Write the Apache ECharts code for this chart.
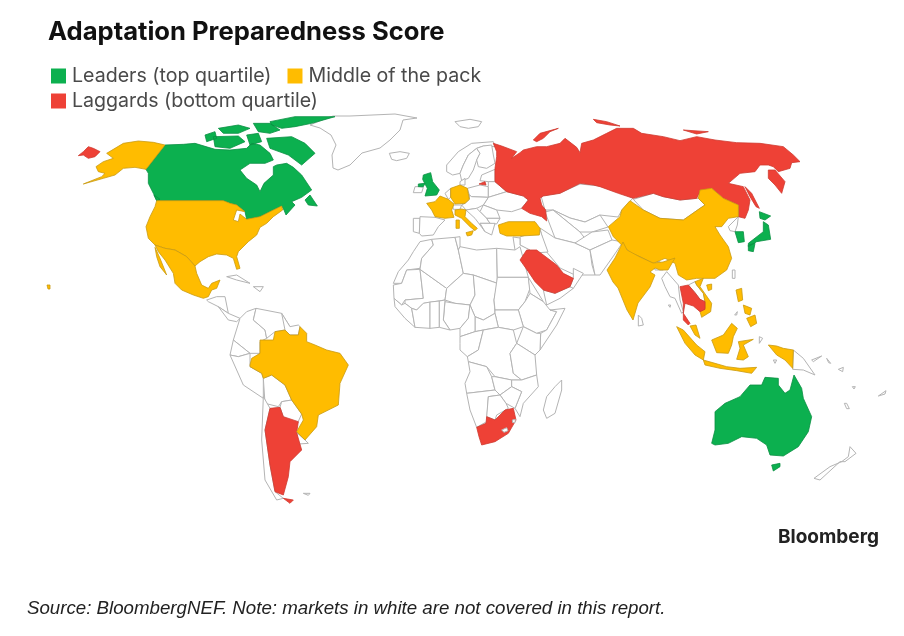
<!DOCTYPE html>
<html>
<head>
<meta charset="utf-8">
<title>Adaptation Preparedness Score</title>
<style>html,body{margin:0;background:#fff}#chart{width:904px;height:636px}</style>
<script src="https://cdn.jsdelivr.net/npm/echarts@6/dist/echarts.min.js"></script>
</head>
<body>
<div id="chart"></div>
<script>
const groupNames = ['Leaders (top quartile)', 'Middle of the pack', 'Laggards (bottom quartile)'];
const leaders = ['Canada', 'United Kingdom', 'Japan', 'South Korea', 'Australia'];
const middle = ['United States', 'Mexico', 'Brazil', 'France', 'Germany', 'Italy', 'Turkey', 'China', 'India',
    'Vietnam', 'Malaysia', 'Indonesia', 'Philippines'];
const laggards = ['Russia', 'Argentina', 'Saudi Arabia', 'South Africa', 'Thailand'];

// base map outlines, traced by hand from crops: [left, top, scale] of each crop
const PX = [0, 0, 1], NA = [60, 110, 1 / 3], SA = [150, 290, 1 / 3], EU = [380, 110, 1 / 3],
    AF = [380, 240, 1 / 3], EA = [600, 110, 1 / 3], OC = [600, 270, 1 / 3], CA = [195, 110, 1 / 3], ST = [650, 270, 1 / 3];

const outlines = {
    'Greenland': [[PX, [333,116,350,116,395,114,417,118,403,120,400,130,390,140,380,148,362,153,350,165,338,170,333,168,332,155,336,145,331,135,320,128,310,125,322,120]]],
    'Iceland': [[EU, [28,130,60,125,88,130,80,145,50,152,35,148]]],
    'Svalbard': [[EU, [225,35,270,28,305,35,295,50,265,55,240,50]]],
    'Ireland': [[EU, [105,230,118,230,130,232,125,248,100,248]]],
    'Portugal': [[EU, [100,325,120,325,118,370,100,365]]],
    'Spain': [[EU, [120,320,165,322,195,330,175,350,160,375,125,378,118,370]]],
    'Norway': [[EU, [200,165,235,125,275,100,340,95,345,110,310,108,290,115,265,135,250,165,240,190,218,195,200,185]]],
    'Sweden': [[EU, [250,165,265,135,290,115,300,130,290,150,280,180,265,205,245,212,240,190]]],
    'Finland': [[EU, [290,115,310,108,335,105,340,135,345,160,320,175,295,170,290,150,300,130]]],
    'Baltics': [[EU, [305,195,345,178,345,215,325,215,300,212]]],
    'Denmark': [[EU, [240,215,255,205,255,225,240,225]]],
    'Benelux': [[EU, [195,250,212,235,212,262,205,268]]],
    'Poland': [[EU, [262,235,300,225,325,230,325,262,275,260,268,255]]],
    'Belarus': [[EU, [325,215,345,215,380,245,325,262,325,230]]],
    'Ukraine': [[EU, [325,262,380,245,430,258,445,270,425,295,395,305,350,300,310,285]]],
    'Central Europe': [[EU, [268,255,275,260,325,262,310,285,290,295,258,300,245,285,255,280,268,268]]],
    'Switzerland': [[EU, [218,285,245,285,240,298,220,298]]],
    'Romania': [[EU, [310,285,350,300,360,325,320,325,300,305]]],
    'Balkans': [[EU, [258,300,290,295,300,305,320,325,330,340,300,340,315,365,285,325]]],
    'Bulgaria': [[EU, [320,325,360,325,350,342,330,340]]],
    'Greece': [[EU, [300,340,345,340,335,375,315,365]]],
    'Kazakhstan': [[PX, [541,196,560,193,580,184,600,186,620,193,633,198,622,210,618,217,600,215,585,222,570,218,553,210,545,210]]],
    'Uzbekistan': [[PX, [553,210,570,218,585,222,600,215,608,227,592,232,580,232]]],
    'Turkmenistan': [[PX, [545,212,553,210,580,232,590,245,575,243,555,238]]],
    'Mongolia': [[EA, [100,268,160,250,190,260,240,270,290,265,295,265,315,285,300,295,250,330,180,325,130,300]]],
    'Iran': [[PX, [540,228,555,238,575,243,590,250,592,265,595,275,575,275,560,268,545,250]]],
    'Iraq': [[PX, [520,237,540,230,548,252,535,253,520,245]]],
    'Afghanistan': [[PX, [575,243,592,232,608,230,612,240,590,250]]],
    'Pakistan': [[PX, [590,250,612,240,623,242,612,258,600,275,595,275]]],
    'Levant': [[PX, [513,237,520,238,520,245,530,250,520,258,515,250]]],
    'Yemen': [[AF, [490,150,525,160,570,140,580,145,540,175,500,195]]],
    'Oman': [[AF, [580,85,610,100,580,145,570,140,580,115]]],
    'Morocco': [[AF, [40,130,55,95,85,60,100,35,120,5,155,-2,160,15,125,55,120,85,80,90,65,130]]],
    'Mauritania': [[AF, [42,175,40,135,65,130,80,90,120,88,130,175,75,180,65,195]]],
    'Mali': [[AF, [120,88,200,145,195,180,130,190,110,210,95,205,75,190,75,180,130,175]]],
    'Algeria': [[AF, [125,55,160,15,155,-2,225,-8,235,30,250,100,200,145,120,88]]],
    'Tunisia': [[AF, [225,-8,240,-10,240,20,235,30]]],
    'Libya': [[AF, [240,20,290,30,350,25,352,130,280,105,250,100,235,30]]],
    'Egypt': [[AF, [350,25,405,30,420,20,445,112,352,112]]],
    'Niger': [[AF, [200,145,250,100,280,105,285,165,270,195,225,190,195,180]]],
    'Chad': [[AF, [280,105,352,130,342,180,345,220,310,240,285,230,270,195,285,165]]],
    'Sudan': [[AF, [352,112,445,112,450,145,435,185,415,210,345,210,342,180]]],
    'Eritrea': [[AF, [445,112,490,185,450,160]]],
    'Ethiopia': [[AF, [435,185,450,160,490,185,510,210,530,215,500,270,470,280,430,260,415,210]]],
    'Somalia': [[AF, [510,210,555,205,530,255,480,330,482,280,500,270,530,215]]],
    'Kenya': [[AF, [430,260,470,280,482,280,480,330,465,345,410,310]]],
    'South Sudan': [[AF, [345,210,415,210,430,260,400,270,355,262,345,220]]],
    'Central African Rep.': [[AF, [285,230,310,240,345,220,355,262,310,270,285,275]]],
    'Nigeria': [[AF, [195,185,225,190,270,195,265,235,240,265,210,270,190,240]]],
    'Cameroon': [[AF, [270,195,285,230,285,275,240,290,240,265,265,235]]],
    'Gabon': [[AF, [240,290,285,275,310,270,295,330,262,350,240,330,240,310]]],
    'DR Congo': [[AF, [310,270,355,262,400,270,410,310,390,340,400,400,425,420,395,420,345,410,320,380,265,365,262,350,295,330]]],
    'Tanzania': [[AF, [410,310,465,345,470,405,425,420,400,400,390,340]]],
    'Angola': [[AF, [265,365,320,380,335,410,345,450,260,460,255,430,270,395]]],
    'Zambia': [[AF, [335,410,345,410,395,420,395,440,360,465,345,450]]],
    'Mozambique': [[AF, [425,420,470,405,475,440,430,490,420,530,405,505,425,455,395,440,395,420]]],
    'Zimbabwe': [[AF, [360,465,395,440,425,455,405,505,378,490]]],
    'Namibia': [[AF, [260,460,345,450,360,465,325,470,320,545,290,562,270,510]]],
    'Botswana': [[AF, [325,470,360,465,378,490,385,505,350,525,345,540,320,530]]],
    'Guinea': [[AF, [42,175,65,195,75,190,95,205,105,262,75,235,45,200]]],
    'Ivory Coast': [[AF, [95,205,110,210,130,190,150,186,150,265,105,262]]],
    'Ghana': [[AF, [150,186,178,183,178,262,150,265]]],
    'Benin': [[AF, [178,183,195,180,190,240,210,270,178,262]]],
    'Madagascar': [[AF, [545,420,545,450,525,520,500,535,490,510,500,470,525,440]]],
    'Cuba': [[NA, [500,500,530,495,570,520,530,510]]],
    'Hispaniola': [[NA, [580,530,610,530,600,545]]],
    'Central America': [[SA, [170,30,200,20,225,20,235,70,205,50,175,35]]],
    'Panama': [[SA, [205,50,235,70,270,85,260,95,235,90]]],
    'Colombia': [[SA, [270,85,290,65,318,55,310,90,345,120,350,145,330,155,330,190,300,190,250,150]]],
    'Venezuela': [[SA, [318,55,395,70,420,110,405,120,375,125,350,145,345,120,310,90]]],
    'Guyana': [[SA, [395,70,420,110,445,105,450,110,445,135,420,135,405,120]]],
    'Ecuador': [[SA, [250,150,300,190,265,200,240,195]]],
    'Peru': [[SA, [240,195,265,200,300,190,300,230,335,250,340,265,340,325,280,285]]],
    'Bolivia': [[SA, [340,265,365,255,405,285,425,330,395,335,385,350,345,340]]],
    'Chile': [[SA, [340,320,360,355,345,420,360,525,375,605,400,625,380,630,345,570,335,450]]],
    'Paraguay': [[SA, [395,335,425,330,455,372,440,405,400,380,390,352]]],
    'Uruguay': [[SA, [440,428,465,450,475,460,445,462]]],
    'Falklands': [[SA, [460,610,480,610,475,616]]],
    'North Korea': [[EA, [385,350,415,320,412,345,405,365,390,362]]],
    'Nepal': [[EA, [95,432,120,440,160,460,155,470,115,455]]],
    'Bangladesh': [[EA, [160,455,180,455,190,480,165,480]]],
    'Taiwan': [[EA, [397,480,405,480,405,505,397,505]]],
    'Myanmar': [[OC, [185,25,200,5,235,45,240,90,250,125,245,130,225,85,210,80,195,50]]],
    'Laos': [[ST, [115,45,135,35,140,45,160,70,165,95,150,88,135,68]]],
    'Sri Lanka': [[OC, [115,135,125,145,130,165,115,168]]],
    'Papua New Guinea': [[OC, [580,240,610,265,645,315,610,300,578,298]], [OC, [635,270,665,258,640,275]]],
    'New Zealand': [[OC, [750,530,768,550,735,575,720,575,660,630,642,625,690,590,725,575,745,560]]],
    'Pacific Islands': [[OC, [680,265,692,280,686,278]], [OC, [715,298,730,292,728,305]], [OC, [757,350,766,350,762,357]],
        [OC, [733,400,740,400,748,416,740,416]], [OC, [835,378,858,362,855,372]], [OC, [205,105,212,105,210,112]],
        [OC, [404,135,412,125,410,135]], [OC, [478,200,488,205,478,220]], [OC, [520,270,530,270,525,280]]],
    'Canada': [[NA, [315,105,370,103,405,100,465,118,510,120,560,115,575,100,600,105,630,130,640,150,615,160,570,160,540,180,560,205,590,225,600,245,612,220,640,195,640,170,650,165,680,160,700,172,725,195,745,225,755,240,725,262,695,275,705,285,678,315,672,300,665,288,640,300,600,320,560,328,555,305,530,285,510,280,490,272,290,272,280,250,265,220,265,190,258,178]],
        [CA, [215,85,290,80,330,100,360,130,320,165,280,135,225,115]],
        [CA, [225,35,300,20,420,20,350,40,300,50,260,55,230,45]],
        [CA, [175,40,225,40,255,60,225,70,190,65]],
        [CA, [70,55,130,45,165,55,130,70,85,70]],
        [CA, [30,75,60,65,65,85,35,95]],
        [CA, [55,80,130,78,150,95,105,115,60,110]],
        [CA, [155,75,190,70,200,95,165,105]],
        [NA, [735,270,750,255,772,288,745,285]],
        [NA, [282,255,300,268,290,272]]],
    'United States': [[NA, [290,272,490,272,510,280,530,285,555,305,530,300,520,330,535,335,540,312,560,328,600,320,640,300,665,288,668,300,640,320,620,340,600,352,590,375,565,395,535,425,530,440,540,475,530,478,520,445,500,435,470,432,445,440,420,455,405,468,380,440,345,420,315,415,285,405,265,385,258,350,270,320,285,290]],
        [NA, [315,105,280,97,235,93,190,100,165,115,140,130,160,145,130,155,108,170,115,185,135,190,125,200,70,222,130,205,165,195,190,175,225,172,258,178]],
        [PX, [47,285,50,285,50,289,48,289]]],
    'Mexico': [[NA, [285,405,315,415,345,420,380,440,405,468,410,490,425,525,445,535,455,520,480,510,470,535,455,540,445,560,430,565,400,555,365,540,345,520,340,490,315,450,295,425]],
        [NA, [285,412,300,445,320,495,300,470,290,440]]],
    'United Kingdom': [[EU, [130,195,152,188,158,215,178,240,170,255,135,258,142,235,135,222,128,208]],
        [EU, [115,222,135,220,130,230,115,230]]],
    'France': [[EU, [140,280,165,275,180,258,205,268,222,282,215,300,222,322,195,325,165,320,155,300]],
        [SA, [465,168,490,165,490,178,470,178]]],
    'Germany': [[EU, [212,235,240,225,262,235,268,268,255,280,225,282,212,262]]],
    'Italy': [[EU, [225,300,245,297,258,300,255,320,275,340,292,355,285,362,270,350,245,325,225,315]],
        [EU, [258,368,280,362,275,375,262,378]], [EU, [228,330,238,330,238,355,228,355]]],
    'Turkey': [[EU, [355,345,385,335,420,335,465,335,480,355,478,375,420,378,380,378,360,370]]],
    'Russia': [[EU, [340,100,365,108,410,125,395,145,420,128,430,120,470,110,500,110,540,100,555,85,590,112,600,128,605,100,640,90,680,70,710,55,760,55,785,70,850,80,900,92,950,80,1005,90,1070,98,1140,100,1210,110,1240,135,1260,155,1235,158,1230,175,1195,185,1180,170,1165,165,1140,165,1125,185,1080,190,1045,220,1090,230,1110,270,1105,300,1095,325,1075,320,1075,285,1030,265,995,235,960,245,950,265,900,270,850,260,820,250,760,265,715,250,660,230,640,225,600,220,570,235,540,250,490,258,480,265,485,285,497,300,500,333,485,320,450,310,425,295,445,270,430,258,380,245,345,215,345,175,350,140,350,125]],
        [EA, [505,180,525,180,555,215,545,250,525,225,505,205]],
        [EA, [435,230,455,250,478,295,468,290,450,260]],
        [EA, [250,60,325,65,290,72]],
        [EU, [460,90,480,70,535,55,510,65,490,85,470,95]],
        [EU, [640,28,680,35,720,48,690,45,650,38]],
        [EU, [297,222,315,215,318,225]],
        [NA, [55,137,70,125,85,110,100,115,120,125,105,140,85,145,70,135]]],
    'China': [[EA, [25,350,60,320,65,300,90,272,130,300,180,325,250,330,300,295,315,285,295,265,300,240,335,235,370,265,415,285,415,320,385,325,365,350,345,350,360,375,385,410,395,445,380,480,345,505,290,505,260,510,235,495,225,460,195,445,160,460,120,440,95,430,70,410,40,380]],
        [ST, [170,45,185,42,185,58,175,62]]],
    'India': [[PX, [623,242,627,250,640,257,653,263,663,262,675,258,668,270,660,270,655,268,650,272,655,275,650,287,638,303,633,320,627,310,618,288,613,282,607,270,615,258]]],
    'South Korea': [[EA, [405,365,430,365,433,395,415,398]]],
    'Japan': [[EA, [478,305,512,318,495,330,480,325]], [EA, [490,335,505,345,512,388,470,395,445,410,445,400,490,365]],
        [EA, [445,405,465,400,460,425,445,422]]],
    'Vietnam': [[ST, [135,35,160,25,150,50,185,100,182,125,155,142,150,125,165,115,165,95,160,70,140,45]]],
    'Thailand': [[ST, [90,50,115,45,135,68,150,88,165,95,165,118,150,125,130,108,105,100,100,130,120,160,115,165,100,150,100,100,95,75]]],
    'Malaysia': [[ST, [120,168,138,165,150,205,135,195]]],
    'Indonesia': [[OC, [230,170,250,180,290,225,315,245,310,270,285,255,255,220]],
        [OC, [310,270,345,280,380,290,420,295,470,292,455,310,410,302,360,295,315,285]],
        [OC, [335,210,370,195,395,160,412,175,400,200,395,225,385,250,350,248]],
        [OC, [415,215,460,208,430,225,445,260,430,270,410,268,420,235]],
        [OC, [505,225,530,228,550,235,580,240,578,295,555,270,530,255]]],
    'Philippines': [[OC, [408,60,425,55,428,90,415,95]], [OC, [430,105,455,115,450,135,435,130]], [OC, [440,145,465,135,470,160,452,170]]],
    'Australia': [[OC, [335,520,345,480,345,425,375,400,420,380,450,345,485,345,495,322,535,325,535,345,555,370,570,360,582,315,605,355,610,385,635,440,625,485,595,530,550,558,510,555,500,525,470,505,425,500,385,520,345,525]],
        [OC, [515,585,540,580,540,590,520,603]]],
    'Saudi Arabia': [[AF, [420,60,440,30,470,30,530,75,550,100,580,115,570,140,525,160,490,150,465,125,445,95]]],
    'South Africa': [[AF, [290,562,318,550,320,530,345,540,375,510,400,505,408,540,385,580,345,605,305,615,297,590]]],
    'Argentina': [[SA, [360,355,390,352,400,380,445,395,440,428,455,480,420,515,415,560,400,615,375,605,360,525,345,420]],
        [SA, [400,625,430,630,420,640]]],
    'Brazil': [[SA, [300,225,305,205,330,190,330,150,370,150,375,125,405,120,420,135,445,135,450,110,470,130,470,155,495,165,530,180,570,190,595,225,570,280,565,345,505,375,500,410,465,450,440,425,460,390,455,372,425,330,405,285,365,255,340,265,335,250,300,230]]],
    'Lesotho': [[AF, [365,570,380,563,384,572,372,577]]],
    'Eswatini': [[AF, [397,540,406,538,405,548,398,548]]]
};

const groupColors = ['#0cb04f', '#ffbc00', '#ee4136'];
const groupEdges = ['#0a8f42', '#c99a12', '#cf3a30'];

function ring(part) {
    const origin = part[0], pts = part[1], out = [];
    for (let i = 0; i < pts.length; i += 2)
        out.push([origin[0] + pts[i] * origin[2], origin[1] + pts[i + 1] * origin[2]]);
    out.push(out[0]);
    return out;
}

const worldJson = {
    type: 'FeatureCollection',
    features: Object.keys(outlines).map(function (name) {
        return {
            type: 'Feature',
            properties: {name: name},
            geometry: {type: 'MultiPolygon', coordinates: outlines[name].map(function (p) { return [ring(p)]; })}
        };
    })
};
echarts.registerMap('world', worldJson);

const regions = [];
[leaders, middle, laggards].forEach(function (names, g) {
    names.forEach(function (name) {
        regions.push({name: name, itemStyle: {areaColor: groupColors[g], borderColor: groupEdges[g], borderWidth: 0.8}});
    });
});

const chart = echarts.init(document.getElementById('chart'), null, {renderer: 'canvas'});
const legendText = {fontFamily: 'Inter', fontSize: 19.6, color: '#4a4a4a', padding: [0, 0, 0, 1]};
chart.setOption({
    backgroundColor: '#fff',
    animation: false,
    title: [
        {text: 'Adaptation Preparedness Score', left: 48, top: 19, padding: 0,
            textStyle: {fontFamily: 'Inter', fontWeight: 700, fontSize: 25.6, color: '#111'}},
        {text: 'Bloomberg', left: 778, top: 528, padding: 0,
            textStyle: {fontFamily: 'Inter', fontWeight: 700, fontSize: 19, color: '#222'}},
        {text: 'Source: BloombergNEF. Note: markets in white are not covered in this report.', left: 27, top: 599, padding: 0,
            textStyle: {fontFamily: 'Liberation Sans', fontStyle: 'italic', fontWeight: 400, fontSize: 18.7, color: '#222'}}
    ],
    legend: [
        {data: groupNames.slice(0, 2), left: 51, top: 66, padding: 0, itemWidth: 15, itemHeight: 15, itemGap: 16, icon: 'rect',
            selectedMode: false, textStyle: legendText},
        {data: groupNames.slice(2), left: 51, top: 91, padding: 0, itemWidth: 15, itemHeight: 15, icon: 'rect',
            selectedMode: false, textStyle: legendText}
    ],
    geo: {
        map: 'world',
        left: 0, top: 0, width: 904, height: 636,
        boundingCoords: [[0, 0], [904, 636]],
        projection: {project: function (p) { return p; }, unproject: function (p) { return p; }},
        roam: false,
        silent: true,
        label: {show: false},
        itemStyle: {areaColor: '#fff', borderColor: '#b4b4b4', borderWidth: 1},
        regions: regions
    },
    series: groupNames.map(function (name, g) {
        return {type: 'scatter', coordinateSystem: 'geo', name: name, data: [], itemStyle: {color: groupColors[g], opacity: 1}};
    })
});
</script>
</body>
</html>
